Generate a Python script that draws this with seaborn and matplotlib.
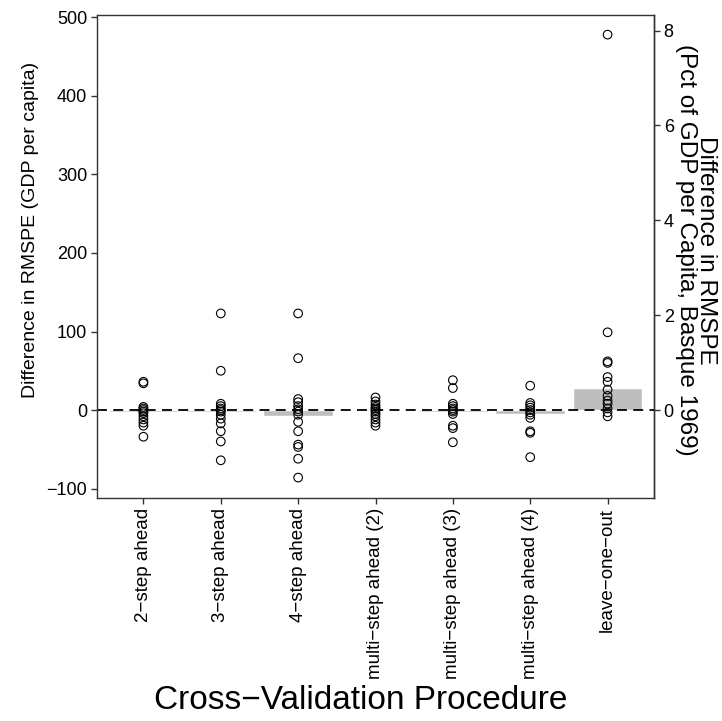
import matplotlib
matplotlib.use("Agg")
import matplotlib.pyplot as plt
import seaborn as sns
import pandas as pd

# ---------------- data ----------------
categories = ["2−step ahead", "3−step ahead", "4−step ahead",
              "multi−step ahead (2)", "multi−step ahead (3)",
              "multi−step ahead (4)", "leave−one−out"]

step2_ahead = [36, 34, 4, 2, 0, -2, -4, -8, -12, -16, -20, -34]
step3_ahead = [123, 50, 8, 5, 2, 0, -2, -6, -11, -17, -27, -40, -64]
step4_ahead = [123, 66, 14, 10, 5, 1, -2, -6, -15, -27, -44, -47, -62, -86]
multi2_ahead = [16, 11, 7, 4, 2, 0, -2, -5, -8, -12, -16, -20]
multi3_ahead = [38, 28, 8, 5, 2, 0, -2, -5, -20, -23, -41]
multi4_ahead = [31, 9, 6, 3, 0, -3, -6, -10, -27, -29, -60]
leave_one_out = [478, 99, 62, 60, 42, 36, 26, 18, 12, 8, 2, -3, -8]

median_diff = [-3, -2, -7, -1, -3, -4.5, 27.5]
basque_gdp_pc_1969 = 6040  # GDP per capita used for the right axis (%)

y_ticks = [-100, 0, 100, 200, 300, 400, 500]
pct_ticks = [0, 2, 4, 6, 8]

series = [step2_ahead, step3_ahead, step4_ahead, multi2_ahead,
          multi3_ahead, multi4_ahead, leave_one_out]
pts = pd.DataFrame({
    "procedure": [c for c, s in zip(categories, series) for _ in s],
    "value": [v for s in series for v in s],
})
bars = pd.DataFrame({"procedure": categories, "median": median_diff})

# ---------------- style ----------------
sns.set_style("white")
plt.rcParams["font.family"] = ["Liberation Sans", "DejaVu Sans"]
plt.rcParams["axes.unicode_minus"] = True

fig = plt.figure(figsize=(7.22, 7.21), dpi=100)
ax = fig.add_axes([97 / 722, 1 - 498 / 721, (654 - 97) / 722, (498 - 15) / 721])

sns.barplot(data=bars, x="procedure", y="median", order=categories,
            color="#bebebe", saturation=1, width=0.9, ax=ax, zorder=1)
ax.axhline(0, color="black", lw=1.3, ls=(0, (5.5, 3.5)), zorder=2)
sns.stripplot(data=pts, x="procedure", y="value", order=categories,
              jitter=False, size=6.2, color="black", edgecolor="black",
              linewidth=0.8, ax=ax, zorder=3)
for coll in ax.collections:
    coll.set_facecolor("none")
    coll.set_edgecolor("black")

ax.set_xlim(-0.6, 6.6)
ax.set_ylim(-112, 503)
ax.set_yticks(y_ticks)

spine_c = "#333333"
for s in ax.spines.values():
    s.set_visible(True)
    s.set_color(spine_c)
    s.set_linewidth(1.0)

ax.tick_params(axis="both", which="both", direction="out", length=4,
               width=1.0, color=spine_c, labelsize=13, labelcolor="black",
               left=True, bottom=True, pad=3)
ax.tick_params(axis="x", labelsize=13.5, labelrotation=90)

ax.set_xlabel("Cross−Validation Procedure", fontsize=24, color="black")
ax.xaxis.set_label_coords(0.474, -0.42)
ax.xaxis.label.set_va("center")
ax.set_ylabel("Difference in RMSPE (GDP per capita)", fontsize=14,
              color="black")
ax.yaxis.set_label_coords(-0.105, 0.555)

sec = ax.secondary_yaxis(
    "right",
    functions=(lambda v: v / basque_gdp_pc_1969 * 100,
               lambda p: p * basque_gdp_pc_1969 / 100))
sec.set_yticks(pct_ticks)
sec.spines["right"].set_color(spine_c)
sec.spines["right"].set_linewidth(1.0)
sec.tick_params(axis="y", direction="out", length=4, width=1.0,
                color=spine_c, labelsize=13, labelcolor="black", pad=3)
sec.set_ylabel("Difference in RMSPE\n(Pct of GDP per Capita, Basque 1969)",
               fontsize=17.5, rotation=270, linespacing=0.92,
               multialignment="center", color="black")
sec.yaxis.label.set_ha("center")
sec.yaxis.label.set_va("center")
sec.yaxis.label.set_rotation_mode("default")
sec.yaxis.set_label_coords((696 - 97) / 557, 0.513, transform=ax.transAxes)

fig.savefig("out.png", dpi=100)
